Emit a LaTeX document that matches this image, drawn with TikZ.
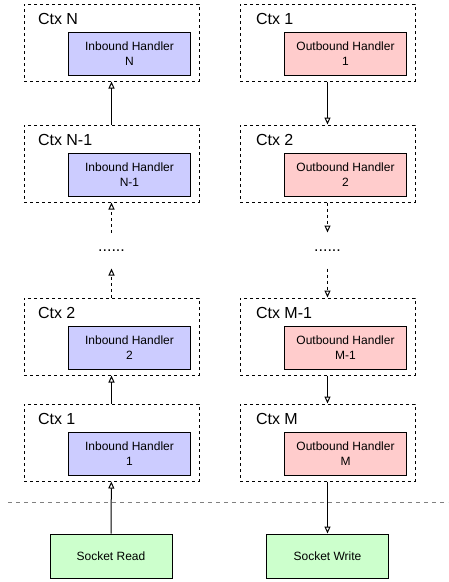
\documentclass[tikz,border=0pt]{standalone}
\usepackage{fontspec}
\setmainfont{Liberation Sans}
\usetikzlibrary{arrows.meta}
\definecolor{inblue}{HTML}{CCCCFF}
\definecolor{outred}{HTML}{FFCCCC}
\definecolor{sockgreen}{HTML}{CCFFCC}

\begin{document}
\begin{tikzpicture}[x=1pt, y=-1pt, line width=1pt,
  ctx/.style={draw, dash pattern=on 3pt off 3pt, minimum width=175pt, minimum height=77pt, inner sep=0pt},
  ctxlabel/.style={anchor=base west, inner sep=0pt, font=\fontsize{16}{19}\selectfont},
  handler/.style={draw, solid, minimum width=122pt, minimum height=43pt, inner sep=0pt, align=center, font=\fontsize{12}{14.4}\selectfont},
  inbound/.style={handler, fill=inblue},
  outbound/.style={handler, fill=outred},
  socket/.style={handler, fill=sockgreen, minimum height=44pt},
  dots/.style={minimum height=35pt, inner sep=0pt, font=\fontsize{16}{19}\selectfont},
  flow/.style={-{Triangle[open, length=7pt, width=6pt]}},
  dflow/.style={flow, dash pattern=on 3pt off 3pt}]
\useasboundingbox (0,0) rectangle (448,582);

% inbound side
\node[ctx] (inN) at (111.5,42.5) {};
\node[ctx] (inNm1) at (111.5,163.5) {};
\node[dots] (indots) at (111.5,250.5) {......};
\node[ctx] (in2) at (111.5,336.5) {};
\node[ctx] (in1) at (111.5,442.5) {};
\node[ctxlabel] (inNlbl) at ([shift={(14pt,-21pt)}]inN.north west) {Ctx N};
\node[ctxlabel] (inNm1lbl) at ([shift={(14pt,-21pt)}]inNm1.north west) {Ctx N-1};
\node[ctxlabel] (in2lbl) at ([shift={(14pt,-21pt)}]in2.north west) {Ctx 2};
\node[ctxlabel] (in1lbl) at ([shift={(14pt,-21pt)}]in1.north west) {Ctx 1};
\node[inbound] (hinN) at ([shift={(18pt,-11pt)}]inN.center) {Inbound Handler\\N};
\node[inbound] (hinNm1) at ([shift={(18pt,-11pt)}]inNm1.center) {Inbound Handler\\N-1};
\node[inbound] (hin2) at ([shift={(18pt,-11pt)}]in2.center) {Inbound Handler\\2};
\node[inbound] (hin1) at ([shift={(18pt,-11pt)}]in1.center) {Inbound Handler\\1};

% outbound side
\node[ctx] (out1) at (327.5,42.5) {};
\node[ctx] (out2) at (327.5,163.5) {};
\node[dots] (outdots) at (327.5,250.5) {......};
\node[ctx] (outMm1) at (327.5,336.5) {};
\node[ctx] (outM) at (327.5,442.5) {};
\node[ctxlabel] (out1lbl) at ([shift={(16pt,-21pt)}]out1.north west) {Ctx 1};
\node[ctxlabel] (out2lbl) at ([shift={(16pt,-21pt)}]out2.north west) {Ctx 2};
\node[ctxlabel] (outMm1lbl) at ([shift={(16pt,-21pt)}]outMm1.north west) {Ctx M-1};
\node[ctxlabel] (outMlbl) at ([shift={(16pt,-21pt)}]outM.north west) {Ctx M};
\node[outbound] (hout1) at ([shift={(18pt,-11pt)}]out1.center) {Outbound Handler\\1};
\node[outbound] (hout2) at ([shift={(18pt,-11pt)}]out2.center) {Outbound Handler\\2};
\node[outbound] (houtMm1) at ([shift={(18pt,-11pt)}]outMm1.center) {Outbound Handler\\M-1};
\node[outbound] (houtM) at ([shift={(18pt,-11pt)}]outM.center) {Outbound Handler\\M};

% socket
\coordinate (sepL) at (8,502);
\coordinate (sepR) at (448,502);
\draw[gray, dash pattern=on 4pt off 4pt] (sepL) -- (sepR);
\node[socket] (read) at (111,556) {Socket Read};
\node[socket] (write) at (327.5,556) {Socket Write};

% flows
\draw[flow] (read) -- (in1);
\draw[flow] (in1) -- (in2);
\draw[dflow] (in2) -- (indots);
\draw[dflow] (indots) -- (inNm1);
\draw[flow] (inNm1) -- (inN);

\draw[flow] (out1) -- (out2);
\draw[dflow] (out2) -- (outdots);
\draw[dflow] (outdots) -- (outMm1);
\draw[flow] (outMm1) -- (outM);
\draw[flow] (outM) -- (write);

\end{tikzpicture}
\end{document}
